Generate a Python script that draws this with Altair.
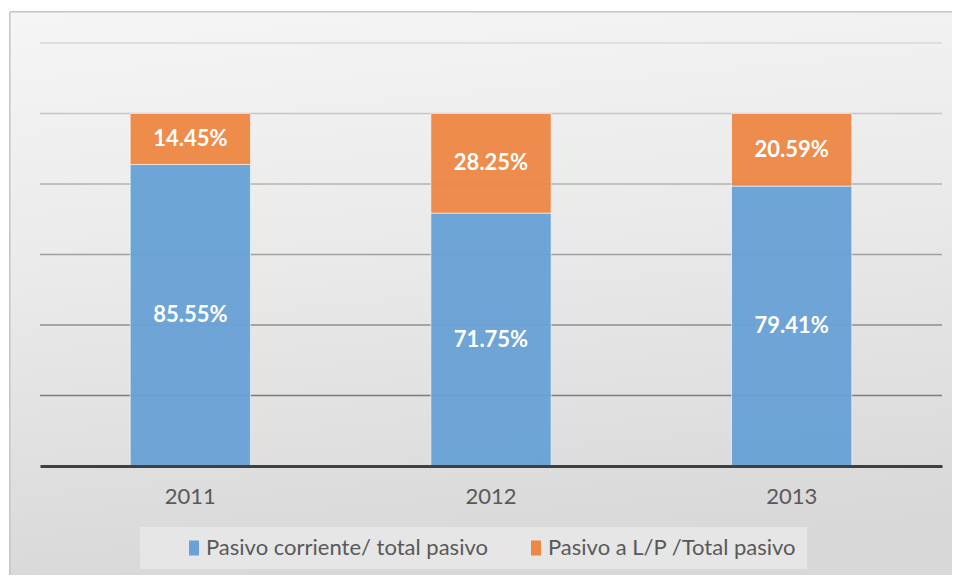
import altair as alt
import pandas as pd

years = ["2011", "2012", "2013"]
pasivo_corriente = [85.55, 71.75, 79.41]
pasivo_lp = [14.45, 28.25, 20.59]
series = ["Pasivo corriente/ total pasivo", "Pasivo a L/P /Total pasivo"]
colors = ["#68A2D6", "#EE8744"]
grid_values = [20, 40, 60, 80, 100, 120]

rows = []
for i, y in enumerate(years):
    rows.append({"year": y, "serie": series[0], "orden": 0, "valor": pasivo_corriente[i]})
    rows.append({"year": y, "serie": series[1], "orden": 1, "valor": pasivo_lp[i]})
df = pd.DataFrame(rows)
grid_df = pd.DataFrame({"g": grid_values})

FONT = "Lato"

bg = alt.Chart(grid_df).mark_rect(
    fill=alt.LinearGradient(
        gradient="linear",
        x1=0, y1=0, x2=0.15, y2=1,
        stops=[
            alt.GradientStop(offset=0.0, color="#f5f5f5"),
            alt.GradientStop(offset=0.45, color="#eaeaea"),
            alt.GradientStop(offset=1.0, color="#d8d8d8"),
        ],
    ),
    stroke="#c4c4c4",
    strokeWidth=1,
).encode(
    x=alt.value(-30), x2=alt.value(916), y=alt.value(-31), y2=alt.value(548)
)

grid = alt.Chart(grid_df).mark_rule(strokeWidth=1.6).encode(
    y=alt.Y("g:Q", scale=alt.Scale(domain=[0, 120]), axis=None),
    x=alt.value(0),
    x2=alt.value(902),
    stroke=alt.Stroke(
        "g:Q",
        scale=alt.Scale(domain=[20, 120], range=["#7c7c7c", "#d8d8d8"]),
        legend=None,
    ),
)

base = alt.Chart(df).transform_stack(
    stack="valor",
    groupby=["year"],
    as_=["v0", "v1"],
    sort=[alt.SortField("orden", order="ascending")],
).transform_calculate(
    mid="(datum.v0 + datum.v1) / 2",
    etiqueta="format(datum.valor, '.2f') + '%'",
)

x_enc = alt.X(
    "year:N",
    sort=years,
    scale=alt.Scale(paddingInner=0.6, paddingOuter=0.3),
    axis=alt.Axis(
        title=None,
        labelAngle=0,
        ticks=False,
        tickSize=0,
        labelPadding=20,
        labelFont=FONT,
        labelFontSize=22,
        labelColor="#595959",
        domainColor="#404040",
        domainWidth=3,
        zindex=1,
    ),
)

bars = base.mark_bar(opacity=0.95, stroke="#ffffff", strokeWidth=1, strokeOpacity=0.6).encode(
    x=x_enc,
    y=alt.Y("v0:Q", scale=alt.Scale(domain=[0, 120]), axis=None),
    y2="v1:Q",
    color=alt.Color(
        "serie:N",
        scale=alt.Scale(domain=series, range=colors),
        legend=alt.Legend(
            title=None,
            orient="none",
            legendX=100,
            legendY=484,
            direction="horizontal",
            symbolType="M-1,-1.5H1V1.5H-1Z",
            symbolSize=100,
            symbolStrokeWidth=0,
            symbolOpacity=1,
            symbolOffset=33,
            labelFont=FONT,
            labelFontSize=22,
            labelColor="#595959",
            labelOffset=1,
            labelLimit=400,
            columnPadding=4,
            padding=10,
            fillColor="#e6e6e6",
        ),
    ),
    order=alt.Order("orden:Q"),
)

labels = base.mark_text(
    font=FONT, fontSize=22, fontWeight="bold", color="#ffffff", baseline="middle"
).encode(
    x=alt.X("year:N", sort=years),
    y=alt.Y("mid:Q"),
    text="etiqueta:N",
)

chart = alt.layer(bg, grid, bars, labels).properties(
    width=902,
    height=423,
    padding={"left": 32, "top": 35, "right": 10, "bottom": 109},
    autosize=alt.AutoSizeParams(type="none"),
    background="#ffffff",
).configure_view(stroke=None)

chart.save("out.html", embed_options={"renderer": "svg", "actions": False})
